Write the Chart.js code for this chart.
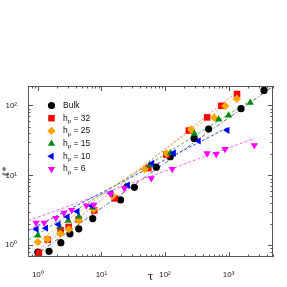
<!DOCTYPE html>
<html>
<head>
<meta charset="utf-8">
<script src="https://cdn.jsdelivr.net/npm/chart.js"></script>
<style>
  html, body { margin: 0; padding: 0; background: #fff; }
  #wrap { width: 287px; height: 287px; }
</style>
</head>
<body>
<div id="wrap"><canvas id="chart" width="287" height="287"></canvas></div>
<script>
// values
const labels = ['Bulk', 'h_p = 32', 'h_p = 25', 'h_p = 15', 'h_p = 10', 'h_p = 6'];

const bulkTau = [1.0, 1.5, 2.3, 3.2, 4.4, 7.3, 20, 33, 73, 121, 288, 486, 1570, 3610];
const bulkL   = [0.80, 0.82, 1.09, 1.46, 1.72, 2.41, 4.45, 6.75, 13.1, 18.5, 33.8, 46, 90, 164];

const h32Tau = [1.04, 1.43, 2.28, 3.05, 4.38, 7.7, 16.2, 54.7, 105, 237, 460, 771, 1360];
const h32L   = [0.78, 1.20, 1.64, 1.83, 2.33, 3.15, 4.68, 12.7, 19.8, 43.8, 67.6, 99, 146];

const h25Tau = [1.0, 1.42, 2.25, 3.08, 4.42, 7.5, 15, 48, 107, 258, 595, 888, 1350];
const h25L   = [1.11, 1.22, 1.46, 1.69, 2.27, 3.28, 5.1, 12.3, 20.6, 45.4, 67, 98, 125];

const h15Tau = [1.0, 2.2, 3.0, 4.4, 7.3, 24, 57, 122, 290, 700, 1000, 2200];
const h15L   = [1.39, 1.83, 2.25, 2.59, 3.48, 7.0, 14.0, 21, 39.4, 63, 72, 110];

const h10Tau = [0.95, 1.34, 2.11, 2.92, 4.19, 7.07, 14, 26, 62.6, 137, 338, 956];
const h10L   = [1.70, 1.76, 1.99, 2.55, 3.05, 3.65, 5.54, 7.28, 14.8, 20.9, 31.1, 44.2];

const h6Tau = [0.94, 1.26, 1.93, 2.57, 3.4, 5.8, 7.6, 14, 23, 61, 130, 460, 640, 880, 2540];
const h6L   = [2.1, 2.1, 2.45, 2.9, 3.2, 3.7, 3.8, 5.5, 6.5, 9.1, 12.3, 20.6, 20.1, 23.7, 27];

// power-law fits, start and end of each line
const fitTau = [[0.84, 4800], [0.75, 1400], [0.72, 1400], [0.72, 2250], [0.72, 950], [0.71, 2540]];
const fitL   = [[0.686, 183], [0.686, 160], [0.9, 135], [1.2, 118], [1.64, 48], [2.25, 33.7]];

const xTickValues = [1, 10, 100, 1000];
const yTickValues = [1, 10, 100];

const markerColors = ['#000000', '#ff0000', '#ffa500', '#0a8a0a', '#0000ff', '#ff00ff'];
const lineColors = ['#666666', '#ff7f7f', '#ffb84d', '#4caf50', '#3050e0', '#ff66ff'];
const pointStyles = ['circle', 'rect', 'rectRot', 'triangle', 'triangle', 'triangle'];
const rotations = [0, 0, 0, 0, 270, 180];
const radii = [3.6, 4.6, 4.2, 4.2, 4.2, 4.2];
const dashes = [[4, 2, 1, 2], [2, 2], [2, 2], [3, 2], [3, 2], [3, 2]];

const seriesTau = [bulkTau, h32Tau, h25Tau, h15Tau, h10Tau, h6Tau];
const seriesL = [bulkL, h32L, h25L, h15L, h10L, h6L];

function toPoints(xs, ys) {
   return xs.map((x, i) => ({x: x, y: ys[i]}));
}

const datasets = [];
seriesTau.forEach((xs, i) => {
   datasets.push({
      label: labels[i],
      data: toPoints(xs, seriesL[i]),
      showLine: false,
      pointStyle: pointStyles[i],
      rotation: rotations[i],
      pointRadius: radii[i],
      pointBackgroundColor: markerColors[i],
      pointBorderColor: markerColors[i],
      pointBorderWidth: 0,
      order: 5 - i
   });
});
fitTau.forEach((xs, i) => {
   datasets.push({
      label: 'fit ' + labels[i],
      isFit: true,
      data: toPoints(xs, fitL[i]),
      showLine: true,
      borderColor: lineColors[i],
      borderWidth: 1,
      borderDash: dashes[i],
      pointRadius: 0,
      order: 20
   });
});

function superLabel(v) {
   const sup = {'0': '\u2070', '1': '\u00b9', '2': '\u00b2', '3': '\u00b3'};
   const e = Math.round(Math.log10(v));
   return '10' + sup[String(e)];
}

function fullLogTicks(min, max) {
   const out = [];
   for (let e = -1; e <= 4; e++) {
      for (let m = 1; m <= 9; m++) {
         const v = m * Math.pow(10, e);
         if (v >= min && v <= max) out.push({value: v});
      }
   }
   return out;
}

function isDecade(v) {
   const l = Math.log10(v);
   return Math.abs(l - Math.round(l)) < 1e-9;
}

// box with inward ticks on all four sides
const frameTicks = {
   id: 'frameTicks',
   afterDraw(chart) {
      const ctx = chart.ctx;
      const a = chart.chartArea;
      ctx.save();
      ctx.strokeStyle = '#555';
      ctx.lineWidth = 1;
      ctx.strokeRect(a.left + 0.5, a.top + 0.5, a.right - a.left - 1, a.bottom - a.top - 1);
      ctx.beginPath();
      chart.scales.x.ticks.forEach(t => {
         const px = Math.round(chart.scales.x.getPixelForValue(t.value)) + 0.5;
         const len = isDecade(t.value) ? 5 : 2.5;
         ctx.moveTo(px, a.bottom);
         ctx.lineTo(px, a.bottom - len);
         ctx.moveTo(px, a.top);
         ctx.lineTo(px, a.top + len);
      });
      chart.scales.y.ticks.forEach(t => {
         const py = Math.round(chart.scales.y.getPixelForValue(t.value)) + 0.5;
         const len = isDecade(t.value) ? 5 : 2.5;
         ctx.moveTo(a.left, py);
         ctx.lineTo(a.left + len, py);
         ctx.moveTo(a.right, py);
         ctx.lineTo(a.right - len, py);
      });
      ctx.stroke();
      ctx.restore();
   }
};

// legend inside the plot, with subscript p
const innerLegend = {
   id: 'innerLegend',
   afterDraw(chart) {
      const ctx = chart.ctx;
      const helpers = Chart.helpers;
      const mx = 51.5, tx = 63, y0 = 105.5, step = 12.7;
      ctx.save();
      labels.forEach((lab, i) => {
         const y = y0 + i * step;
         ctx.fillStyle = markerColors[i];
         ctx.strokeStyle = markerColors[i];
         helpers.drawPoint(ctx, {
            pointStyle: pointStyles[i],
            rotation: rotations[i],
            radius: radii[i],
            borderWidth: 0
         }, mx, y);
         ctx.fillStyle = '#111';
         ctx.textBaseline = 'middle';
         ctx.textAlign = 'left';
         let x = tx;
         if (lab.indexOf('h_p') === 0) {
            ctx.font = '8.5px "Liberation Sans", Arial, sans-serif';
            ctx.fillText('h', x, y);
            x += ctx.measureText('h').width;
            ctx.font = '6px "Liberation Sans", Arial, sans-serif';
            ctx.fillText('p', x, y + 3);
            x += ctx.measureText('p').width;
            ctx.font = '8.5px "Liberation Sans", Arial, sans-serif';
            ctx.fillText(lab.slice(3), x, y);
         } else {
            ctx.font = '8.5px "Liberation Sans", Arial, sans-serif';
            ctx.fillText(lab, x, y);
         }
      });
      ctx.restore();
   }
};

new Chart(document.getElementById('chart').getContext('2d'), {
   type: 'scatter',
   data: {datasets: datasets},
   options: {
      responsive: false,
      animation: false,
      layout: {padding: {left: 0, right: 14, top: 86, bottom: 0}},
      plugins: {
         legend: {display: false},
         tooltip: {enabled: false}
      },
      scales: {
         x: {
            type: 'logarithmic',
            min: 0.7,
            max: 5000,
            afterBuildTicks: s => { s.ticks = fullLogTicks(0.7, 5000); },
            afterFit: s => { s.height = 30; },
            grid: {display: false},
            border: {display: false},
            ticks: {
               autoSkip: false,
               maxRotation: 0,
               padding: 5,
               color: '#222',
               font: {size: 8, family: '"Liberation Sans", Arial, sans-serif'},
               callback: v => (isDecade(v) && xTickValues.includes(Math.round(v)) ? superLabel(v) : '')
            },
            title: {
               display: true,
               text: 'τ',
               color: '#111',
               font: {size: 11, family: '"DejaVu Serif", serif'},
               padding: {top: 0, bottom: 3}
            }
         },
         y: {
            type: 'logarithmic',
            min: 0.68,
            max: 190,
            afterBuildTicks: s => { s.ticks = fullLogTicks(0.68, 190); },
            afterFit: s => { s.width = 28; },
            grid: {display: false},
            border: {display: false},
            ticks: {
               autoSkip: false,
               padding: 3,
               color: '#222',
               font: {size: 8, family: '"Liberation Sans", Arial, sans-serif'},
               callback: v => (isDecade(v) && yTickValues.includes(Math.round(v)) ? superLabel(v) : '')
            },
            title: {
               display: true,
               text: 'ℓ*',
               color: '#111',
               font: {size: 10, family: '"DejaVu Serif", serif'},
               padding: {top: 0, bottom: 0}
            }
         }
      }
   },
   plugins: [frameTicks, innerLegend]
});
</script>
</body>
</html>
